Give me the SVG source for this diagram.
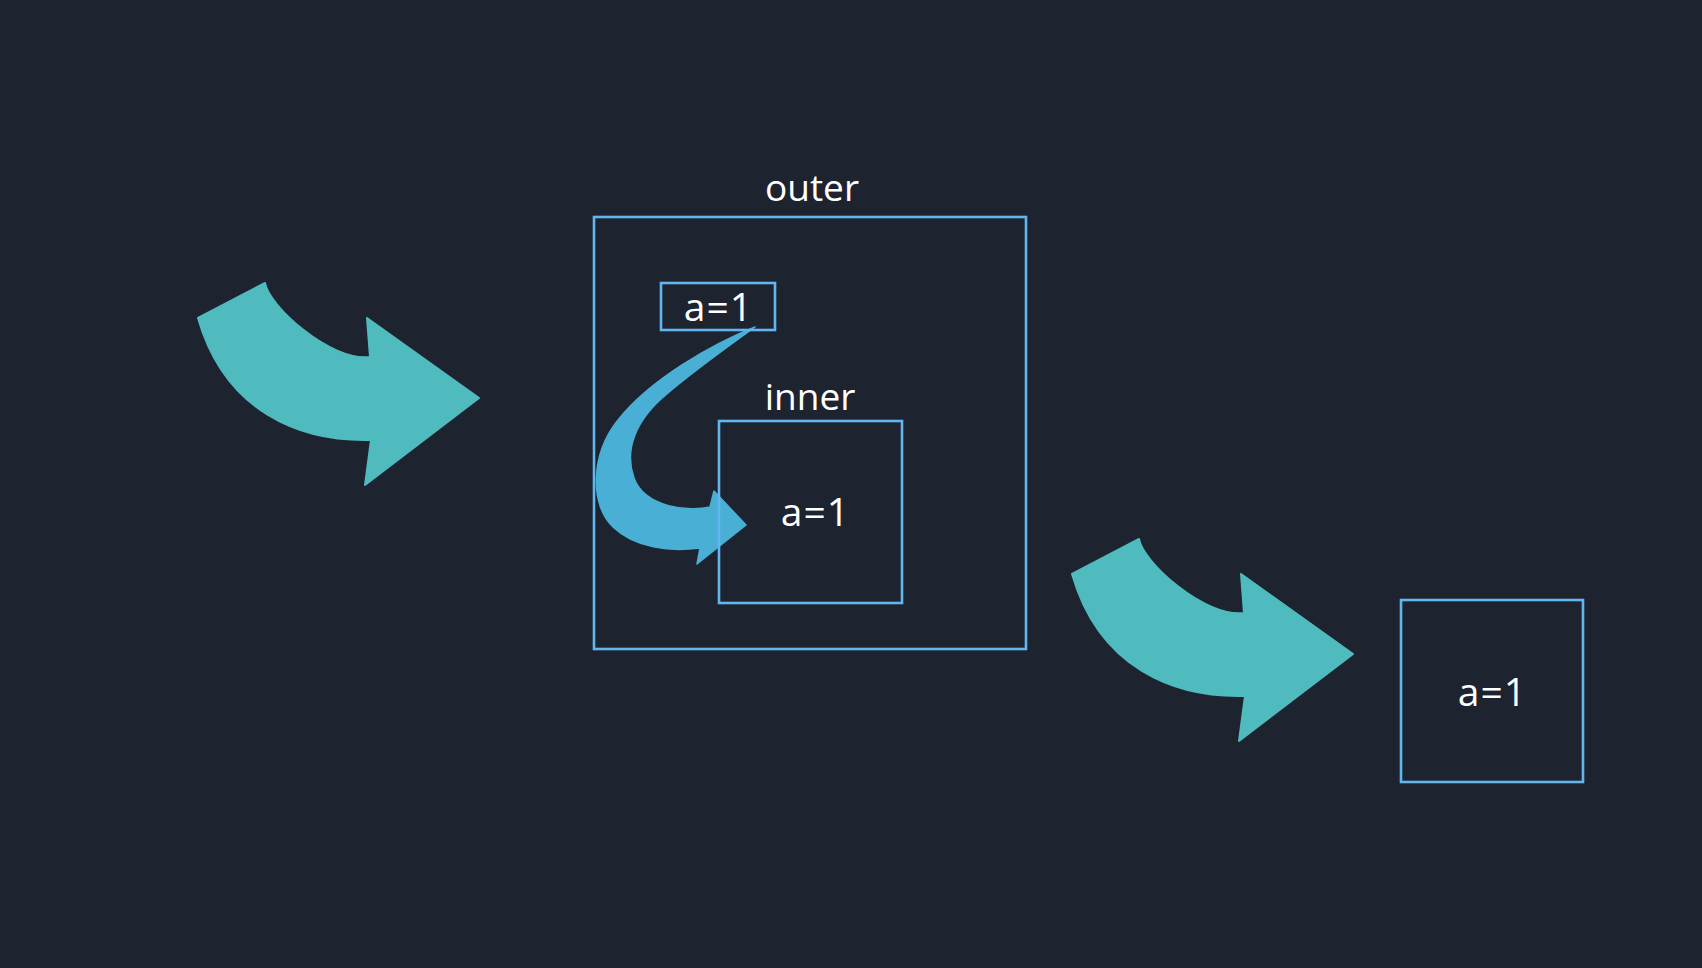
<svg xmlns="http://www.w3.org/2000/svg" width="1702" height="968" viewBox="0 0 1702 968">
<style>
.bg{fill:#1e2330}
.box{fill:none;stroke:#62b6ee;stroke-width:2.6}
.lbl{font-family:"Open Sans","DejaVu Sans",sans-serif;font-size:37px;fill:#ffffff;text-anchor:middle}
.val{font-size:39px;letter-spacing:1px}
.teal{fill:#4fbbbf;stroke:#4fbbbf;stroke-width:2;stroke-linejoin:round}
.blue{fill:#4aafd4;stroke:#4aafd4;stroke-width:1.5;stroke-linejoin:round}
</style>
<defs>
<path id="bigArrow" d="M 198 318 L 265 283 C 268 305, 330 362, 370 357 L 367 318 L 479 398 L 365 485 L 371 440 C 300 442, 225 412, 198 318 Z"/>
</defs>
<rect class="bg" x="0" y="0" width="1702" height="968"/>
<g id="connectors">
<use href="#bigArrow" class="teal"/>
<path class="blue" d="M 755 327 C 710 345, 650 380, 618 420 C 590 455, 590 505, 613 527 C 635 548, 670 552, 700 548 L 697 564 L 746 525 L 714 491 L 710 507 C 690 512, 645 508, 634 478 C 624 450, 635 420, 668 393 C 695 370, 730 345, 755 327 Z"/>
<use href="#bigArrow" class="teal" transform="translate(874 256)"/>
</g>
<g id="outer">
<rect class="box" x="594" y="217" width="432" height="432"/>
<text class="lbl" x="812" y="201">outer</text>
</g>
<g id="a1-outer">
<rect class="box" x="661" y="283" width="114" height="47"/>
<text class="lbl val" x="718.5" y="321">a=1</text>
</g>
<g id="inner">
<rect class="box" x="719" y="421" width="183" height="182"/>
<text class="lbl" x="810" y="410">inner</text>
<text class="lbl val" x="815.5" y="526">a=1</text>
</g>
<g id="result">
<rect class="box" x="1401" y="600" width="182" height="182"/>
<text class="lbl val" x="1492.5" y="706">a=1</text>
</g>
</svg>
